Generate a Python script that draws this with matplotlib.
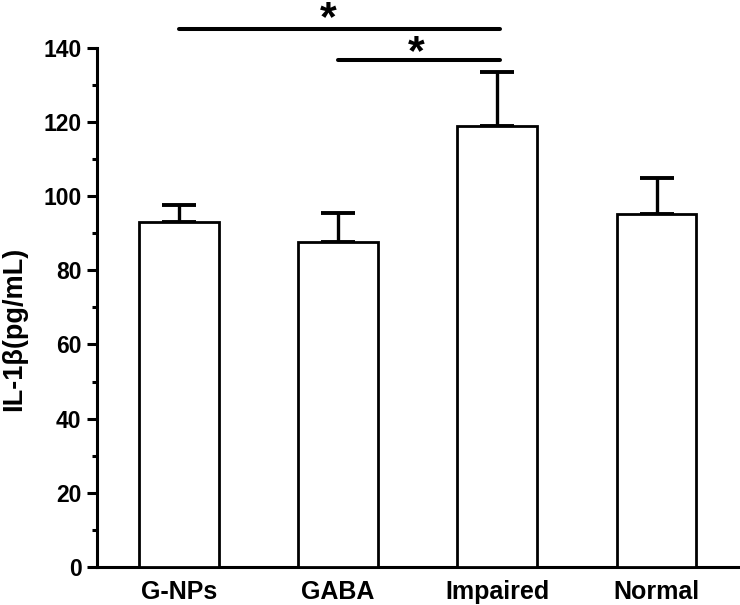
import matplotlib

matplotlib.use("Agg")
import matplotlib.pyplot as plt
import numpy as np
from matplotlib.ticker import MultipleLocator

# data
groups = ["G-NPs", "GABA", "Impaired", "Normal"]
means = [93.0, 87.5, 118.9, 95.1]
sems = [4.7, 8.0, 14.6, 9.9]

# significance brackets: (from group, to group, line height)
brackets = [(0, 2, 145.0), (1, 2, 136.7)]

plt.rcParams["font.family"] = ["Liberation Sans", "DejaVu Sans"]
plt.rcParams["font.weight"] = "bold"

fig = plt.figure(figsize=(7.4, 6.05), dpi=100)
ax = fig.add_axes([0.1307, 0.0628, 0.8663, 0.8584])

x = np.arange(len(groups))
ax.bar(x, means, width=0.5, color="white", edgecolor="black", linewidth=2.0, zorder=3)
ax.errorbar(
    x, means, yerr=[np.zeros(len(sems)), sems], fmt="none", ecolor="black",
    elinewidth=2.4, capsize=12.5, capthick=2.8, zorder=2,
)

ax.set_xlim(-0.515, 3.51)
ax.set_ylim(0, 140)
ax.yaxis.set_major_locator(MultipleLocator(20))
ax.yaxis.set_minor_locator(MultipleLocator(10))
ax.set_xticks(x)
ax.set_xticklabels(groups, fontsize=18, fontweight="bold")
ax.tick_params(axis="x", length=0, pad=9)
ax.tick_params(axis="y", which="major", length=7, width=2.2, labelsize=16.5, pad=4)
ax.tick_params(axis="y", which="minor", length=3.5, width=2.2)
for lab in ax.get_yticklabels():
    lab.set_fontweight("bold")

for side in ("top", "right"):
    ax.spines[side].set_visible(False)
for side in ("left", "bottom"):
    ax.spines[side].set_linewidth(2.2)

ax.set_ylabel("IL-1β(pg/mL)", fontsize=19.5, fontweight="bold")
ax.yaxis.set_label_coords(-0.109, 0.458)

# significance lines with stars
for (a, b, h) in brackets:
    ax.plot([a, b + 0.02], [h, h], color="black", linewidth=2.9, clip_on=False,
            solid_capstyle="round")
ax.text(0.94, 147.6, "*", ha="center", va="center", fontsize=31, fontweight="bold",
        clip_on=False)
ax.text(1.49, 138.6, "*", ha="center", va="center", fontsize=31, fontweight="bold",
        clip_on=False)

fig.savefig("out.png", dpi=100)
